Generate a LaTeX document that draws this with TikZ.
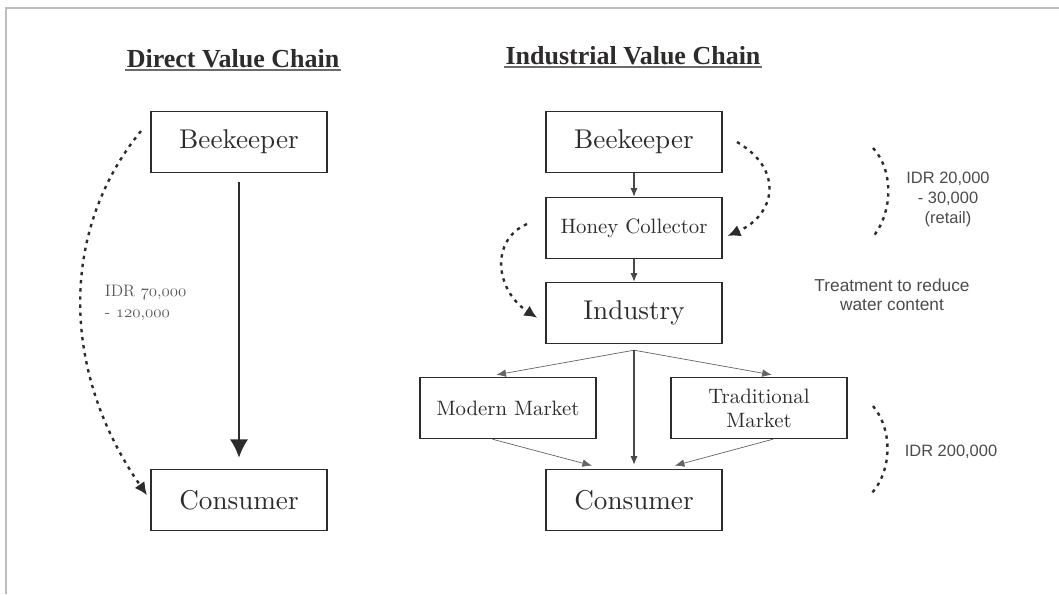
\documentclass[tikz,border=0pt]{standalone}
\usepackage{fontspec}
\newfontfamily\headfont{Liberation Serif}
\newfontfamily\notefont{Liberation Sans}
% the 10pt design of Latin Modern, kept at every size
\newfontfamily\boxfont{lmroman10-regular.otf}
\usetikzlibrary{arrows.meta}
\definecolor{vcink}{HTML}{2E2B2B}
\definecolor{vcline}{HTML}{4A4848}
\definecolor{vcframe}{HTML}{BDBDBD}
% old-style figures taken from the math italic font
\newcommand\osnum[1]{{\usefont{OML}{cmm}{m}{it}#1}}

\begin{document}
\begin{tikzpicture}[x=0.025cm,y=-0.025cm,
  box/.style={draw=vcink,line width=1.1pt,minimum width=4.4cm,minimum height=1.52cm,inner sep=2pt,
    text=vcink,align=center},
  big/.style={box,font=\boxfont\fontsize{19.3}{21}\selectfont},
  small/.style={box,font=\boxfont\fontsize{14.8}{17}\selectfont},
  head/.style={font=\headfont\bfseries\fontsize{18.5}{20}\selectfont,text=vcink,inner sep=1pt},
  note/.style={font=\notefont\fontsize{11.7}{14.2}\selectfont,text=vcink!85,align=center},
  oldnote/.style={font=\fontsize{11.8}{15}\selectfont,text=vcink!80,align=left,anchor=west},
  arr/.style={-{Latex[length=2.2mm,width=1.8mm]},line width=0.8pt,vcline},
  fine/.style={-{Latex[length=2.4mm,width=1.9mm]},line width=0.5pt,vcline!85},
  heavy/.style={-{Latex[length=4.6mm,width=4.6mm]},line width=1.9pt,vcink},
  dots/.style={line width=1.7pt,dash pattern=on 2.4pt off 3.4pt,vcink},
  dotarr/.style={dots,-{Latex[length=3.2mm,width=3mm]}}]
  \useasboundingbox (0,0) rectangle (1059,594);
  \draw[vcframe,line width=1.4pt] (6,594) -- (6,8) -- (1059,8);

  % direct chain
  \node[head] (dtitle) at (233,59) {Direct Value Chain};
  \draw[vcink!70,line width=1.3pt] (dtitle.south west) -- (dtitle.south east);
  \node[big] (bk1) at (239,142) {Beekeeper};
  \node[big] (cs1) at (239,500) {Consumer};
  \draw[heavy] ([yshift=-0.225cm]bk1.south) -- ([yshift=0.275cm]cs1.north);
  \coordinate (d1) at (141,131);
  \draw[dotarr] (d1) .. controls (60,230) and (60,370) .. ([xshift=-0.08cm,yshift=0.12cm]cs1.west);
  \node[oldnote] (p0) at (100,303) {IDR \osnum{70},\osnum{000}\\- \osnum{120},\osnum{000}};

  % industrial chain
  \node[head] (ititle) at (633,56) {Industrial Value Chain};
  \draw[vcink!70,line width=1.3pt] (ititle.south west) -- (ititle.south east);
  \node[big] (bk2) at (634,142) {Beekeeper};
  \node[small] (hc) at (634,228) {Honey Collector};
  \node[big] (ind) at (634,313) {Industry};
  \node[small] (mm) at (508,408) {Modern Market};
  \node[small] (tm) at (759,408) {Traditional\\Market};
  \node[big] (cs2) at (634,500) {Consumer};
  \draw[arr] (bk2) -- (hc);
  \draw[arr] (hc) -- (ind);
  \coordinate (split) at ([yshift=-0.15cm]ind.south);
  \draw[fine] (split) -- ([xshift=-0.29cm,yshift=0.05cm]mm.north);
  \draw[fine] (split) -- ([xshift=0.32cm,yshift=0.05cm]tm.north);
  \draw[arr] (split) -- ([yshift=0.1cm]cs2.north);
  \draw[fine] ([xshift=-0.39cm]mm.south) -- ([xshift=-1.05cm,yshift=0.08cm]cs2.north);
  \draw[fine] ([xshift=0.35cm]tm.south) -- ([xshift=1.02cm,yshift=0.08cm]cs2.north);

  \coordinate (d2) at (737,142);
  \draw[dotarr] (d2) .. controls (785,170) and (775,215) .. ([xshift=0.12cm,yshift=-0.2cm]hc.east);
  \coordinate (d3) at (527,224);
  \draw[dotarr] (d3) .. controls (490,240) and (495,290) .. ([xshift=-0.2cm,yshift=-0.12cm]ind.west);

  % price brackets and notes
  \draw[dots] (873,148) .. controls (895,172) and (892,215) .. (872,238);
  \node[note] (p1) at (948,199) {IDR 20,000\\- 30,000\\(retail)};
  \node[note,font=\notefont\fontsize{12.3}{13.6}\selectfont] (p2) at (892,295) {Treatment to reduce\\water content};
  \draw[dots] (873,406) .. controls (893,430) and (892,470) .. (872,493);
  \node[note] (p3) at (951,452) {IDR 200,000};
\end{tikzpicture}
\end{document}
